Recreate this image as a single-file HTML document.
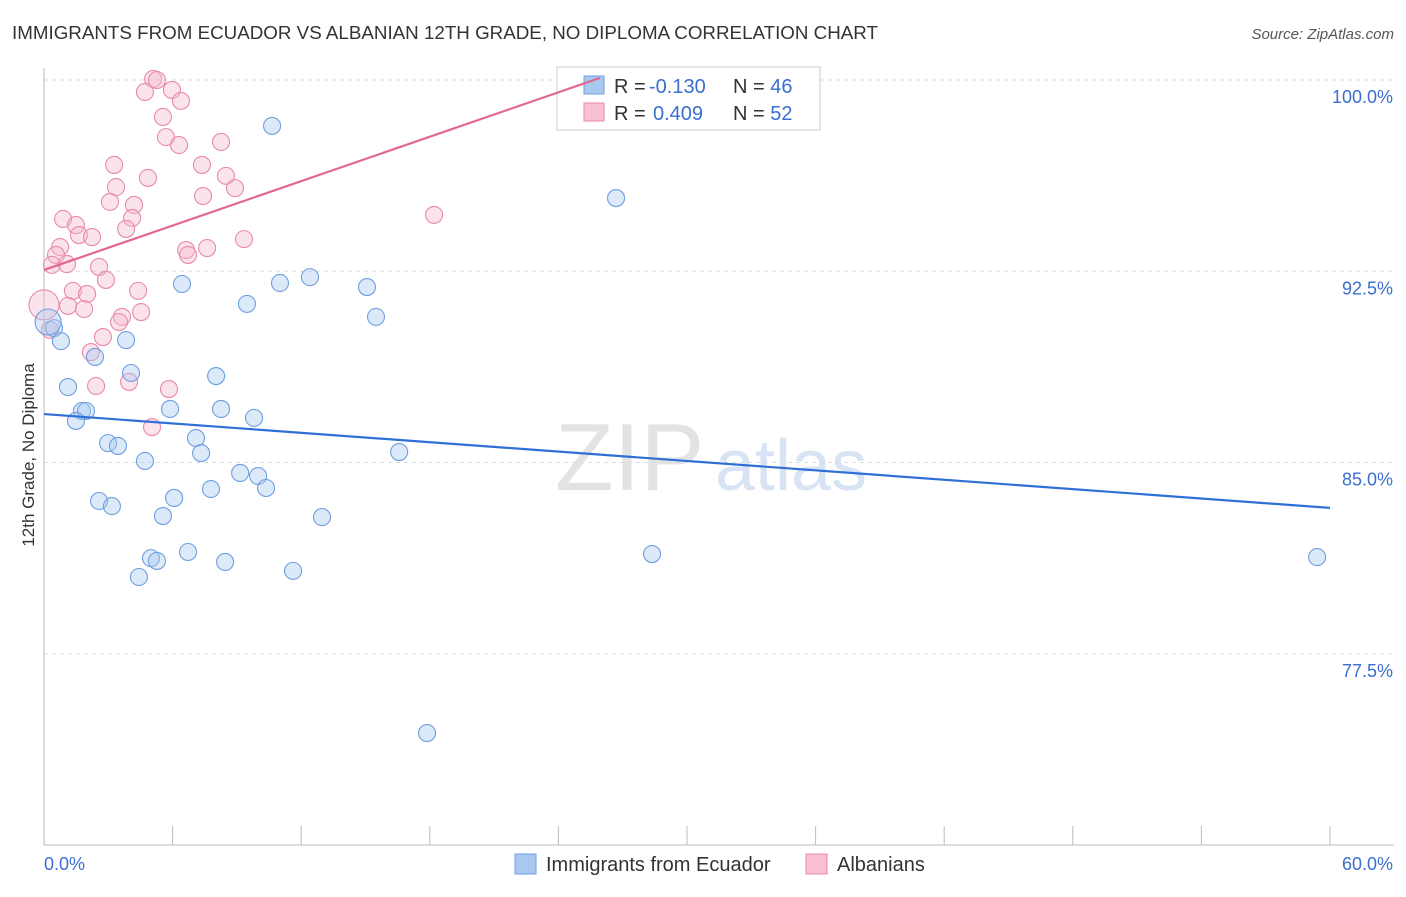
<!DOCTYPE html>
<html><head><meta charset="utf-8"><style>
body{margin:0;background:#fff;font-family:"Liberation Sans",sans-serif;}
svg text{font-family:"Liberation Sans",sans-serif;}
</style></head><body>
<svg id="chart" width="1406" height="892" xmlns="http://www.w3.org/2000/svg">
<text x="12" y="39" font-size="18" fill="#333" textLength="866" lengthAdjust="spacingAndGlyphs">IMMIGRANTS FROM ECUADOR VS ALBANIAN 12TH GRADE, NO DIPLOMA CORRELATION CHART</text>
<text x="1394" y="39" font-size="15" fill="#555" text-anchor="end" font-style="italic">Source: ZipAtlas.com</text>
<g><text x="555" y="490" font-size="96" fill="#ddd" font-family="Liberation Serif" opacity="0.8">ZIP</text><text x="715" y="490" font-size="72" fill="#c8d8ee" opacity="0.7">atlas</text></g>
<g id="grid"></g>
<g id="axes"></g>
<g>
<rect x="557" y="67" width="263" height="63" fill="#fff" stroke="#ccc"/>
<rect x="584" y="76" width="20" height="18" fill="#a8c8f0" stroke="#6f9fe0"/>
<rect x="584" y="103" width="20" height="18" fill="#f8c0d2" stroke="#e88aa8"/>
<text x="614" y="93" font-size="20" fill="#333">R = <tspan x="649" fill="#3a6fd0">-0.130</tspan><tspan x="733">N = </tspan><tspan fill="#3a6fd0">46</tspan></text>
<text x="614" y="120" font-size="20" fill="#333">R = <tspan x="653" fill="#3a6fd0">0.409</tspan><tspan x="733">N = </tspan><tspan fill="#3a6fd0">52</tspan></text>
</g>
<g id="marks"></g>
<text transform="translate(34,455) rotate(-90)" font-size="17" fill="#333" text-anchor="middle">12th Grade, No Diploma</text>
<g>
<rect x="515" y="854" width="21" height="20" fill="#a8c8f0" stroke="#6f9fe0"/>
<text x="546" y="871" font-size="20" fill="#333">Immigrants from Ecuador</text>
<rect x="806" y="854" width="21" height="20" fill="#f8c0d2" stroke="#e88aa8"/>
<text x="837" y="871" font-size="20" fill="#333">Albanians</text>
</g>
</svg>
<script>
const yTicks=[100,92.5,85,77.5];
const yTickLabels=["100.0%","92.5%","85.0%","77.5%"];
const blueX=[10.64,26.69,6.44,11.01,12.41,15.07,9.47,15.49,0.47,0.79,3.83,2.38,4.06,8.03,1.12,1.77,1.96,1.49,5.88,8.26,9.80,2.99,3.45,7.09,7.33,16.57,4.71,9.15,9.99,7.79,10.36,2.57,3.17,6.07,5.55,12.97,4.99,5.27,6.72,8.45,4.43,11.62,28.37,59.40,17.87,0.19];
const blueY=[98.20,95.37,92.00,92.04,92.27,91.88,91.22,90.71,90.27,89.76,89.80,89.14,88.51,88.39,87.96,87.02,87.02,86.63,87.10,87.10,86.75,85.76,85.65,85.96,85.37,85.41,85.06,84.59,84.47,83.96,84.00,83.49,83.29,83.61,82.90,82.86,81.25,81.14,81.49,81.10,80.51,80.75,81.41,81.29,74.39,90.51];
const pinkX=[5.09,5.27,4.71,5.97,6.39,5.55,5.69,6.30,8.26,3.27,4.85,7.37,8.49,3.36,8.91,7.42,3.08,4.20,0.89,4.11,1.49,3.83,1.63,2.24,18.20,9.33,0.75,6.63,7.61,6.72,0.56,0.37,1.07,2.57,2.89,4.39,1.35,2.01,1.12,1.87,4.53,3.64,3.50,2.75,2.19,3.97,2.43,5.83,5.04,0.0,0.28];
const pinkY=[100.04,100.0,99.53,99.61,99.18,98.55,97.76,97.45,97.57,96.67,96.16,96.67,96.24,95.80,95.76,95.45,95.22,95.10,94.55,94.59,94.31,94.16,93.92,93.84,94.71,93.76,93.45,93.33,93.41,93.14,93.14,92.75,92.78,92.67,92.16,91.73,91.73,91.61,91.14,91.02,90.90,90.71,90.51,89.92,89.33,88.16,88.00,87.88,86.39,91.18,90.20];
const blueTrend=[86.90,83.22];
const pinkTrend=[92.55,100.08];
const pinkTrendEnd=25.94;
const NS="http://www.w3.org/2000/svg";
const xs=v=>44+v*(1286/60), ys=v=>80+(100-v)*25.5;
function mk(p,t,a){const e=document.createElementNS(NS,t);for(const k in a)e.setAttribute(k,a[k]);p.appendChild(e);return e;}
const grid=document.getElementById('grid'),axes=document.getElementById('axes'),marks=document.getElementById('marks');
yTicks.forEach((t,i)=>{
 const l=mk(grid,'line',{x1:44,x2:1394,y1:ys(t),y2:ys(t),stroke:'#ddd','stroke-dasharray':'4,4'});
 
 
 const tx=mk(axes,'text',{x:1393,y:ys(t)+23,'font-size':18,fill:'#3a6fd0','text-anchor':'end'});
 tx.textContent=yTickLabels[i];
 
 
});
mk(axes,'line',{x1:44,x2:44,y1:68,y2:845,stroke:'#bbb'});
mk(axes,'line',{x1:44,x2:1394,y1:845,y2:845,stroke:'#bbb'});
for(let i=0;i<=10;i++){const t=mk(axes,'line',{x1:xs(i*6),x2:xs(i*6),y1:826,y2:845,stroke:'#bbb'});
 
 }
const x0=mk(axes,'text',{x:44,y:870,'font-size':18,fill:'#3a6fd0'});x0.textContent='0.0%';


const x1=mk(axes,'text',{x:1393,y:870,'font-size':18,fill:'#3a6fd0','text-anchor':'end'});x1.textContent='60.0%';


function pts(X,Y,fill,stroke,name,bigIdx,bigR){X.forEach((x,i)=>{const c=mk(marks,'circle',{cx:xs(x),cy:ys(Y[i]),r:(i===bigIdx?bigR:8.5),fill:fill,'fill-opacity':0.4,stroke:stroke,'stroke-width':1.1});
 
 });}
pts(pinkX,pinkY,'#f5b8cc','#e88aa8','albanian-point',49,15);
pts(blueX,blueY,'#a8c8f0','#6f9fe0','ecuador-point',45,13);
const bl=mk(marks,'line',{x1:xs(0),y1:ys(blueTrend[0]),x2:xs(60),y2:ys(blueTrend[1]),stroke:'#2f6fd6','stroke-width':2.2});


const pl=mk(marks,'line',{x1:xs(0),y1:ys(pinkTrend[0]),x2:xs(pinkTrendEnd),y2:ys(pinkTrend[1]),stroke:'#e36890','stroke-width':2.2});


</script>
</body></html>
